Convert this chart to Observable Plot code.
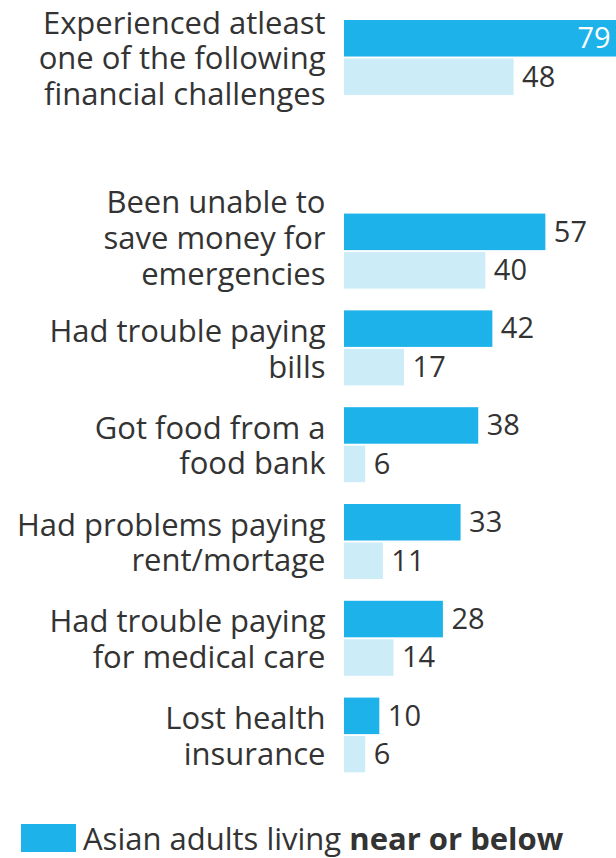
<!DOCTYPE html>
<html><head><meta charset="utf-8">
<script src="https://cdn.jsdelivr.net/npm/d3@7"></script>
<script src="https://cdn.jsdelivr.net/npm/@observablehq/plot@0.6"></script>
<style>
html,body{margin:0;padding:0;background:#fff;overflow:hidden;width:616px;height:858px}
#legend{padding:12px 0 0 21px;display:flex;align-items:center;font-family:"Open Sans",sans-serif;font-size:31px;color:#333;white-space:nowrap;line-height:28px}
#legend .sw{width:55px;height:28px;background:#1db3ea;margin-right:7px;flex:none}
</style></head><body><div id="chart"></div>
<div id="legend"><span class="sw"></span><span>Asian adults living <b>near or below</b></span></div>
<script>
const categories = [
  "Experienced atleast\none of the following\nfinancial challenges",
  "Been unable to\nsave money for\nemergencies",
  "Had trouble paying\nbills",
  "Got food from a\nfood bank",
  "Had problems paying\nrent/mortage",
  "Had trouble paying\nfor medical care",
  "Lost health\ninsurance"
];
const nearOrBelow = [79, 57, 42, 38, 33, 28, 10];
const abovePoverty = [48, 40, 17, 6, 11, 14, 6];
const seriesColors = ["#1db3ea", "#ccecf8"];

const rows = categories.map((c, i) => ({cat: c, near: nearOrBelow[i], above: abovePoverty[i]}));
const yDomain = [categories[0], "", ...categories.slice(1)];
const raisedLabels = [categories[1]];
const xMax = 77;
const font = "'Open Sans', sans-serif";

const axisOpts = {tickSize: 0, tickPadding: 19, fontSize: 31, lineHeight: 1.15, tickFormat: d => d, fill: "#333", label: null};

const chart = Plot.plot({
  width: 616,
  height: 812,
  marginLeft: 344,
  marginRight: 0,
  marginTop: 20,
  marginBottom: 39.4,
  style: {fontFamily: font, fontSize: "29px", color: "#333", background: "#fff"},
  x: {domain: [0, xMax], axis: null},
  y: {domain: yDomain, paddingInner: 0.225, paddingOuter: 0, round: false, label: null},
  marks: [
    Plot.axisY({...axisOpts, ticks: yDomain.filter(d => !raisedLabels.includes(d))}),
    Plot.axisY({...axisOpts, ticks: raisedLabels, dy: -14}),
    Plot.barX(rows, {x: "near", y: "cat", fill: seriesColors[0], insetBottom: 38.5, clip: true}),
    Plot.barX(rows, {x: "above", y: "cat", fill: seriesColors[1], insetTop: 38.5, clip: true}),
    Plot.text(rows.filter(d => d.near <= xMax), {x: "near", y: "cat", text: d => String(d.near), dx: 8, dy: -19.25, textAnchor: "start", fill: "#333", fontSize: 29}),
    Plot.text(rows.filter(d => d.near > xMax), {x: "near", y: "cat", text: d => String(d.near), dx: -13, dy: -19.25, textAnchor: "end", fill: "#fff", fontSize: 29}),
    Plot.text(rows, {x: "above", y: "cat", text: d => String(d.above), dx: 8, dy: 19.25, textAnchor: "start", fill: "#333", fontSize: 29})
  ]
});
document.getElementById("chart").appendChild(chart);
</script>
</body></html>
